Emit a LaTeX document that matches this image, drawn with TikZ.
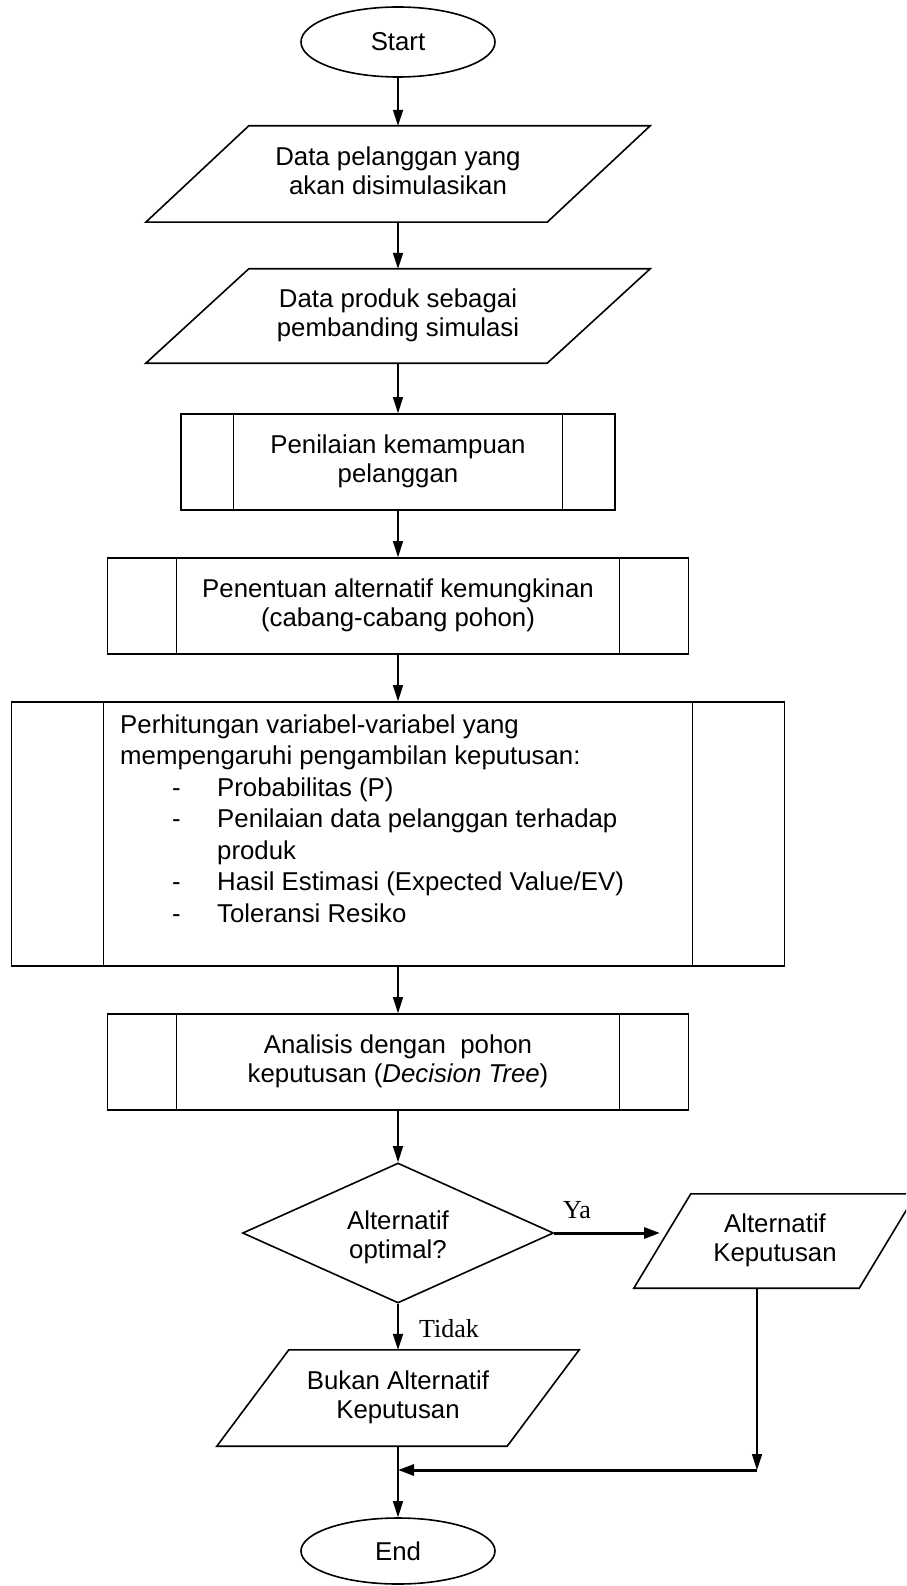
\documentclass[tikz,border=0pt]{standalone}
\usepackage{fontspec}
\setmainfont{Liberation Sans}
\newfontfamily\labelserif{Liberation Serif}
\usetikzlibrary{shapes.geometric,arrows.meta}

% outline of an input/output parallelogram inside a named frame node
\newcommand\drawio[2]{\draw[outline, line join=miter]
  ([xshift=#2]#1.north west) -- (#1.north east) --
  ([xshift=-#2]#1.south east) -- (#1.south west) -- cycle;}
% the two inner bars of a predefined-process box
\newcommand\drawbars[2]{\draw[line width=1.2pt]
  ([xshift=#2]#1.north west) -- ([xshift=#2]#1.south west)
  ([xshift=-#2]#1.north east) -- ([xshift=-#2]#1.south east);}
\newcommand\twoline[2]{\begin{tabular}{@{}c@{}}#1\\#2\end{tabular}}

\tikzset{
  every node/.style={font=\fontsize{25.8pt}{29.5pt}\selectfont},
  outline/.style={draw=black, line width=1.6pt},
  terminal/.style={ellipse, outline, minimum width=194pt, minimum height=70pt, inner sep=0pt},
  ioframe/.style={rectangle, inner sep=0pt},
  procbox/.style={rectangle, outline, inner sep=0pt},
  decision/.style={diamond, outline, inner sep=0pt, minimum width=311pt, minimum height=140pt},
  flow/.style={line width=1.6pt, -{Triangle[length=16pt,width=10pt]}},
  flowthick/.style={line width=3pt, -{Triangle[length=16pt,width=11pt]}},
  branch/.style={font=\labelserif\fontsize{26pt}{30pt}\selectfont, inner sep=0pt},
}

\begin{document}
\begin{tikzpicture}[x=1pt, y=-1pt]
\clip (0,0) rectangle (906,1586);
\fill[white] (0,0) rectangle (906,1586);

% main column, all centred on x = 398
\node[terminal] (start) at (398,42) {Start};

\node[ioframe, minimum width=504pt, minimum height=96pt] (data1) at (398,174)
  {\twoline{Data pelanggan yang}{akan disimulasikan}};
\drawio{data1}{103pt}

\node[ioframe, minimum width=504pt, minimum height=94pt] (data2) at (398,316)
  {\twoline{Data produk sebagai}{pembanding simulasi}};
\drawio{data2}{103pt}

\node[procbox, minimum width=434pt, minimum height=96pt] (assess) at (398,462)
  {\twoline{Penilaian kemampuan}{pelanggan}};
\drawbars{assess}{53pt}

\node[procbox, minimum width=581pt, minimum height=96pt] (branches) at (398,606)
  {\twoline{Penentuan alternatif kemungkinan}{(cabang-cabang pohon)}};
\drawbars{branches}{70pt}

\node[procbox, minimum width=773pt, minimum height=264pt] (calc) at (398,834) {};
\drawbars{calc}{93pt}
\node[anchor=north west, inner sep=0pt, font=\fontsize{25.8pt}{31.5pt}\selectfont]
  (calctext) at (120,711) {\begin{tabular}{@{}l@{}}
    Perhitungan variabel-variabel yang\\
    mempengaruhi pengambilan keputusan:\\
    \hspace*{52pt}\makebox[45pt][l]{-}Probabilitas (P)\\
    \hspace*{52pt}\makebox[45pt][l]{-}Penilaian data pelanggan terhadap\\
    \hspace*{97pt}produk\\
    \hspace*{52pt}\makebox[45pt][l]{-}Hasil Estimasi (Expected Value/EV)\\
    \hspace*{52pt}\makebox[45pt][l]{-}Toleransi Resiko
  \end{tabular}};

\node[procbox, minimum width=581pt, minimum height=96pt] (tree) at (398,1062)
  {\twoline{Analisis dengan\ \ pohon}{keputusan (\textit{Decision Tree})}};
\drawbars{tree}{70pt}

\node[decision] (optimal) at (398,1233) {};
\node[inner sep=0pt] (optimaltext) at (398,1238) {\twoline{Alternatif}{optimal?}};

\node[ioframe, minimum width=282pt, minimum height=94pt] (accept) at (775,1241)
  {\twoline{Alternatif}{Keputusan}};
\drawio{accept}{57pt}

\node[ioframe, minimum width=362pt, minimum height=96pt] (reject) at (398,1398)
  {\twoline{Bukan Alternatif}{Keputusan}};
\drawio{reject}{72pt}

\node[terminal, minimum height=66pt] (end) at (398,1551) {End};

% branch labels
\node[branch, anchor=base west] (yes) at (563,1218) {Ya};
\node[branch, anchor=base west] (no) at (419,1337) {Tidak};

% connectors
\coordinate (yesend) at (660,1233);
\coordinate (merge) at (757,1470);

\draw[flow] (start) -- (data1.north);
\draw[flow] (data1) -- (data2);
\draw[flow] (data2) -- (assess);
\draw[flow] (assess) -- (branches);
\draw[flow] (branches) -- (calc);
\draw[flow] (calc) -- (tree);
\draw[flow] (tree) -- (optimal);
\draw[flowthick] (optimal.east) -- (yesend);
\draw[flow] (optimal.south) -- (reject.north);
\draw[flow] (accept.south -| merge) -- (merge);
\draw[flowthick] (merge) -- (merge -| reject.south);
\draw[flow] (reject.south) -- (end.north);
\end{tikzpicture}
\end{document}
